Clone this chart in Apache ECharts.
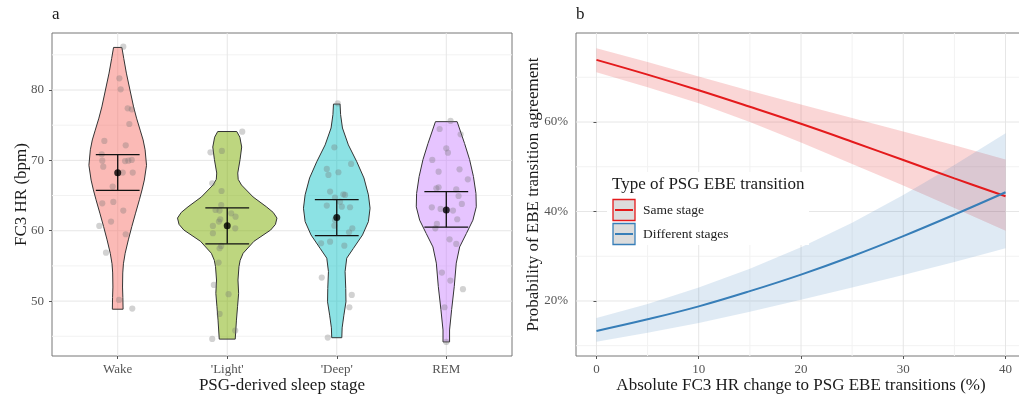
<!DOCTYPE html>
<html>
<head>
<meta charset="utf-8">
<script src="https://cdn.jsdelivr.net/npm/echarts@6.0.0/dist/echarts.min.js"></script>
<style>
  html, body { margin: 0; padding: 0; background: #fff; }
  #chart { width: 1019px; height: 397px; }
</style>
</head>
<body>
<div id="chart"></div>
<script>
/* ===== data: panel a ===== */
const stages = ["Wake", "'Light'", "'Deep'", "REM"];
const stageFill = ["rgba(248,118,109,0.5)", "rgba(124,174,0,0.5)", "rgba(0,191,196,0.45)", "rgba(199,124,255,0.45)"];

// violin outline: heart rate levels and half widths (in category units)
const violinY = [
    [86.05, 84.5, 82.4, 80.0, 77.6, 76.0, 74.3, 72.9, 71.5, 69.3, 67.2, 65.8, 64.4, 62.5, 60.6, 58.7, 56.8, 55.3, 54.0, 52.0, 50.5, 48.85],
    [74.1, 73.3, 71.9, 70.1, 68.2, 67.3, 66.5, 64.8, 63.4, 62.6, 61.8, 60.9, 60.1, 58.5, 56.8, 55.8, 54.9, 53.0, 51.1, 49.2, 47.3, 44.6],
    [78.0, 76.5, 74.6, 72.2, 69.8, 67.5, 65.1, 63.2, 61.3, 59.4, 57.5, 56.1, 54.2, 51.8, 49.9, 48.0, 46.2, 44.8],
    [75.5, 72.4, 70.1, 67.7, 65.3, 63.4, 61.5, 59.6, 57.7, 55.4, 52.1, 48.8, 45.9, 44.2],
];
const violinW = [
    [0.038, 0.055, 0.079, 0.112, 0.145, 0.172, 0.205, 0.232, 0.25, 0.263, 0.243, 0.222, 0.198, 0.163, 0.129, 0.097, 0.068, 0.052, 0.046, 0.044, 0.047, 0.049],
    [0.087, 0.115, 0.132, 0.117, 0.096, 0.1, 0.13, 0.236, 0.358, 0.42, 0.454, 0.44, 0.396, 0.244, 0.145, 0.118, 0.107, 0.098, 0.104, 0.094, 0.084, 0.073],
    [0.03, 0.035, 0.052, 0.106, 0.183, 0.248, 0.289, 0.304, 0.289, 0.235, 0.152, 0.091, 0.076, 0.082, 0.084, 0.065, 0.049, 0.046],
    [0.099, 0.167, 0.213, 0.248, 0.271, 0.274, 0.243, 0.183, 0.122, 0.091, 0.073, 0.049, 0.03, 0.03],
];

const hrMean = [68.25, 60.7, 61.87, 62.96];
const hrLower = [65.75, 58.14, 59.32, 60.5];
const hrUpper = [70.82, 63.25, 64.43, 65.57];

// jittered observations [x position, bpm]
const wakePts = [[1.051, 86.15], [1.015, 81.66], [1.027, 80.1], [1.091, 77.4], [1.128, 77.26], [1.106, 75.17], [0.878, 72.76], [1.073, 72.14], [0.854, 70.87], [0.859, 69.96], [0.868, 69.1], [1.067, 69.9], [1.097, 69.96], [1.128, 70.06], [1.046, 68.26], [1.137, 68.26], [0.954, 66.27], [0.859, 63.9], [0.96, 64.09], [1.051, 62.86], [0.939, 61.3], [0.832, 60.68], [1.073, 59.5], [0.893, 56.89], [1.012, 50.17], [1.133, 48.94]];
const lightPts = [[2.137, 74.08], [1.847, 71.15], [1.951, 71.34], [1.863, 66.75], [1.948, 65.65], [1.945, 63.66], [1.893, 62.95], [1.93, 62.86], [2.036, 62.48], [2.076, 62.0], [1.936, 61.63], [1.924, 61.3], [1.869, 60.68], [2.073, 60.35], [1.869, 59.64], [1.945, 57.84], [1.93, 57.51], [1.921, 55.47], [1.878, 52.3], [2.012, 50.98], [1.93, 48.18], [2.073, 45.81], [1.863, 44.63]];
const deepPts = [[3.009, 78.1], [2.978, 71.86], [2.909, 68.78], [2.924, 67.93], [3.015, 68.31], [3.131, 69.49], [2.939, 65.56], [3.06, 65.18], [3.076, 65.09], [2.984, 64.71], [2.909, 63.57], [3.03, 64.13], [3.046, 63.42], [3.121, 63.34], [2.984, 61.53], [2.978, 60.72], [3.142, 60.35], [3.112, 59.78], [2.857, 58.22], [2.939, 58.45], [3.069, 57.88], [2.863, 53.34], [3.137, 50.88], [3.115, 49.13], [2.918, 44.82]];
const remPts = [[4.039, 75.6], [3.939, 74.46], [4.131, 73.7], [4.0, 71.71], [4.015, 71.1], [3.872, 70.06], [4.121, 68.73], [3.93, 68.4], [4.197, 67.31], [3.909, 66.03], [3.93, 66.17], [4.091, 65.88], [4.112, 64.94], [4.142, 63.81], [3.868, 63.33], [3.948, 63.1], [4.061, 62.86], [4.1, 61.63], [3.914, 60.97], [3.9, 60.35], [4.03, 58.78], [4.091, 58.12], [3.96, 54.05], [4.037, 52.92], [4.152, 51.69], [3.984, 49.13], [4.0, 44.2]];

const hrTicks = [50, 60, 70, 80];
const hrMinor = [45, 55, 65, 75, 85];
const stageTicks = [1, 2, 3, 4];

/* ===== data: panel b ===== */
const changePct = [0, 5, 10, 15, 20, 25, 30, 35, 40];
const sameFit = [73.9, 70.6, 67.1, 63.4, 59.6, 55.6, 51.5, 47.4, 43.4];
const sameUp = [76.5, 73.4, 70.2, 67.0, 63.9, 60.9, 57.9, 54.8, 51.6];
const sameLo = [71.1, 67.8, 64.2, 60.0, 55.4, 50.6, 45.8, 40.8, 35.7];
const diffFit = [13.3, 15.9, 18.8, 22.2, 25.9, 30.0, 34.5, 39.3, 44.3];
const diffUp = [16.2, 19.3, 23.0, 27.2, 32.0, 37.5, 43.7, 50.4, 57.5];
const diffLo = [10.9, 12.9, 15.1, 17.6, 20.3, 23.0, 25.8, 28.7, 31.8];

const pctTicks = [0, 10, 20, 30, 40];
const pctMinor = [5, 15, 25, 35];
const probTicks = [20, 40, 60];
const probMinor = [10, 30, 50, 70];

/* ===== style ===== */
const FONT = "Liberation Serif";
const TICK_COL = "#555";
const TITLE_COL = "#1a1a1a";
const RED = "#E41A1C", BLUE = "#377EB8";

/* ===== helpers ===== */
function gridLines(xi, values, vertical, minor) {
    return {
        type: "custom", xAxisIndex: xi, yAxisIndex: xi, z: 0, silent: true,
        data: values.map(v => [v]),
        renderItem(params, api) {
            const cs = params.coordSys, v = api.value(0);
            const style = { stroke: minor ? "#f2f2f2" : "#e6e6e6", lineWidth: 1 };
            if (vertical) {
                const x = api.coord([v, 50])[0];
                return { type: "line", shape: { x1: x, y1: cs.y, x2: x, y2: cs.y + cs.height }, style };
            }
            const y = api.coord([2, v])[1];
            return { type: "line", shape: { x1: cs.x, y1: y, x2: cs.x + cs.width, y2: y }, style };
        },
    };
}

function toPairs(xs, ys) { return xs.map((x, i) => [x, ys[i]]); }

function bandSeries(lo, up, fill) {
    return {
        type: "custom", xAxisIndex: 1, yAxisIndex: 1, z: 2, silent: true,
        data: [[0]],
        renderItem(params, api) {
            const top = changePct.map((x, i) => api.coord([x, up[i]]));
            const bot = changePct.map((x, i) => api.coord([x, lo[i]])).reverse();
            return { type: "polygon", shape: { points: top.concat(bot) }, style: { fill } };
        },
    };
}

const nameStyle = { color: TITLE_COL, fontFamily: FONT, fontSize: 17 };
const labelStyle = { color: TICK_COL, fontFamily: FONT, fontSize: 13 };

const option = {
    animation: false,
    graphic: [
        { type: "text", left: 52, top: 6, z: 20, style: { text: "a", font: `17px "${FONT}"`, fill: TITLE_COL } },
        { type: "text", left: 576, top: 6, z: 20, style: { text: "b", font: `17px "${FONT}"`, fill: TITLE_COL } },
        // legend of panel b (white box like ggplot)
        { type: "rect", z: 20, shape: { x: 607, y: 172, width: 202, height: 73 }, style: { fill: "#fff" } },
        { type: "text", left: 612, top: 176, z: 21, style: { text: "Type of PSG EBE transition", font: `17px "${FONT}"`, fill: TITLE_COL } },
        { type: "rect", z: 21, shape: { x: 613, y: 199.5, width: 22, height: 21 }, style: { fill: "#dcdcdc", stroke: RED, lineWidth: 1.3 } },
        { type: "line", z: 22, shape: { x1: 615, y1: 210, x2: 633, y2: 210 }, style: { stroke: RED, lineWidth: 2 } },
        { type: "rect", z: 21, shape: { x: 613, y: 223.5, width: 22, height: 21 }, style: { fill: "#dcdcdc", stroke: BLUE, lineWidth: 1.3 } },
        { type: "line", z: 22, shape: { x1: 615, y1: 234, x2: 633, y2: 234 }, style: { stroke: BLUE, lineWidth: 2 } },
        { type: "text", left: 643, top: 203, z: 21, style: { text: "Same stage", font: `13.5px "${FONT}"`, fill: "#222" } },
        { type: "text", left: 643, top: 227, z: 21, style: { text: "Different stages", font: `13.5px "${FONT}"`, fill: "#222" } },
    ],
    grid: [
        { left: 52, top: 33, width: 460, height: 323, outerBoundsMode: "none", containLabel: false, show: true, borderColor: "#777", borderWidth: 1, backgroundColor: "transparent" },
        { left: 576, top: 33, width: 450, height: 323, outerBoundsMode: "none", containLabel: false, show: true, borderColor: "#777", borderWidth: 1, backgroundColor: "transparent" },
    ],
    xAxis: [
        {
            gridIndex: 0, type: "value", min: 0.4, max: 4.6,
            axisLine: { show: false }, splitLine: { show: false },
            axisTick: { show: true, length: 3, customValues: stageTicks, lineStyle: { color: TICK_COL } },
            axisLabel: Object.assign({ customValues: stageTicks, formatter: v => stages[Math.round(v) - 1] || "", margin: 7 }, labelStyle),
            name: "PSG-derived sleep stage", nameLocation: "middle", nameGap: 21, nameMoveOverlap: false,
            nameTextStyle: nameStyle,
        },
        {
            gridIndex: 1, type: "value", min: -2, max: 42,
            axisLine: { show: false }, splitLine: { show: false },
            axisTick: { show: true, length: 3, customValues: pctTicks, lineStyle: { color: TICK_COL } },
            axisLabel: Object.assign({ customValues: pctTicks, margin: 7 }, labelStyle),
            name: "Absolute FC3 HR change to PSG EBE transitions (%)", nameLocation: "middle", nameGap: 21, nameMoveOverlap: false,
            nameTextStyle: nameStyle,
        },
    ],
    yAxis: [
        {
            gridIndex: 0, type: "value", min: 42.2, max: 88.1,
            axisLine: { show: false }, splitLine: { show: false },
            axisTick: { show: true, length: 3, customValues: hrTicks, lineStyle: { color: TICK_COL } },
            axisLabel: Object.assign({ customValues: hrTicks, margin: 8 }, labelStyle),
            name: "FC3 HR (bpm)", nameLocation: "middle", nameGap: 22, nameMoveOverlap: false,
            nameTextStyle: nameStyle,
        },
        {
            gridIndex: 1, type: "value", min: 7.7, max: 79.9,
            axisLine: { show: false }, splitLine: { show: false },
            axisTick: { show: true, length: 3, customValues: probTicks, lineStyle: { color: TICK_COL } },
            axisLabel: Object.assign({ customValues: probTicks, formatter: v => v + "%", margin: 8 }, labelStyle),
            name: "Probability of EBE transition agreement", nameLocation: "middle", nameGap: 34, nameMoveOverlap: false,
            nameTextStyle: nameStyle,
        },
    ],
    series: [
        gridLines(0, hrMinor, false, true),
        gridLines(0, hrTicks, false, false),
        gridLines(0, stageTicks, true, false),
        gridLines(1, probMinor, false, true),
        gridLines(1, probTicks, false, false),
        gridLines(1, pctMinor, true, true),
        gridLines(1, pctTicks, true, false),

        // violins
        {
            type: "custom", xAxisIndex: 0, yAxisIndex: 0, z: 2, silent: true,
            data: stageTicks.map(v => [v]),
            renderItem(params, api) {
                const i = params.dataIndex, cx = api.value(0);
                const ys = violinY[i], ws = violinW[i];
                const right = ys.map((y, j) => api.coord([cx + ws[j], y]));
                const left = ys.map((y, j) => api.coord([cx - ws[j], y])).reverse();
                return {
                    type: "polygon", shape: { points: right.concat(left) },
                    style: { fill: stageFill[i], stroke: "#333", lineWidth: 1 },
                };
            },
        },
        // jittered points
        {
            type: "scatter", xAxisIndex: 0, yAxisIndex: 0, z: 3, silent: true,
            symbolSize: 6.2,
            itemStyle: { color: "rgba(115,115,115,0.4)" },
            data: [].concat(wakePts, lightPts, deepPts, remPts),
        },
        // error bars
        {
            type: "custom", xAxisIndex: 0, yAxisIndex: 0, z: 4, silent: true,
            data: stageTicks.map((x, i) => [x, hrMean[i], hrLower[i], hrUpper[i]]),
            renderItem(params, api) {
                const x = api.value(0), lo = api.value(2), hi = api.value(3);
                const st = { stroke: "#111", lineWidth: 1.3 };
                const p = (a, b) => api.coord([a, b]);
                const seg = (a, b) => ({ type: "line", shape: { x1: a[0], y1: a[1], x2: b[0], y2: b[1] }, style: st });
                return {
                    type: "group",
                    children: [
                        seg(p(x, lo), p(x, hi)),
                        seg(p(x - 0.2, hi), p(x + 0.2, hi)),
                        seg(p(x - 0.2, lo), p(x + 0.2, lo)),
                    ],
                };
            },
        },
        // means
        {
            type: "scatter", xAxisIndex: 0, yAxisIndex: 0, z: 5, silent: true,
            symbolSize: 7, itemStyle: { color: "#000" },
            data: toPairs(stageTicks, hrMean),
        },

        // panel b
        bandSeries(sameLo, sameUp, "rgba(228,26,28,0.18)"),
        bandSeries(diffLo, diffUp, "rgba(55,126,184,0.16)"),
        {
            type: "line", xAxisIndex: 1, yAxisIndex: 1, z: 3, silent: true,
            showSymbol: false, smooth: 0.4,
            lineStyle: { color: RED, width: 2 },
            data: toPairs(changePct, sameFit),
        },
        {
            type: "line", xAxisIndex: 1, yAxisIndex: 1, z: 3, silent: true,
            showSymbol: false, smooth: 0.4,
            lineStyle: { color: BLUE, width: 2 },
            data: toPairs(changePct, diffFit),
        },
    ],
};

const chart = echarts.init(document.getElementById("chart"));
chart.setOption(option);
</script>
</body>
</html>
